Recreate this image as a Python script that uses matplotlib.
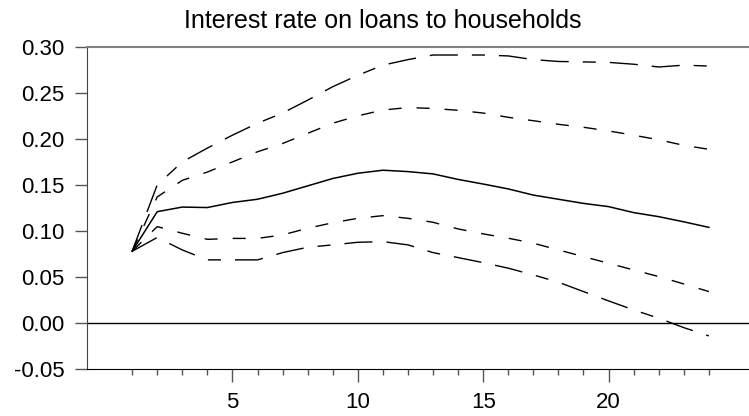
import matplotlib
matplotlib.use("Agg")
import matplotlib.pyplot as plt

plt.rcParams['font.family'] = ['Liberation Sans', 'DejaVu Sans']
plt.rcParams['lines.scale_dashes'] = False

# impulse response horizon
steps = list(range(1, 25))

median = [0.078, 0.121, 0.126, 0.1255, 0.131, 0.1345, 0.141, 0.149, 0.157, 0.1627,
          0.166, 0.1645, 0.162, 0.156, 0.151, 0.1457, 0.139, 0.1345, 0.130, 0.1265,
          0.120, 0.1156, 0.110, 0.104]
upper_inner = [0.078, 0.137, 0.155, 0.164, 0.175, 0.186, 0.195, 0.206, 0.217, 0.225,
               0.2313, 0.234, 0.233, 0.231, 0.228, 0.2234, 0.2197, 0.2158, 0.2126, 0.2086,
               0.204, 0.199, 0.193, 0.1887]
lower_inner = [0.078, 0.1048, 0.0976, 0.091, 0.092, 0.092, 0.0958, 0.103, 0.109, 0.1138,
               0.1167, 0.1138, 0.1095, 0.1023, 0.0969, 0.0922, 0.0868, 0.0795, 0.0723, 0.065,
               0.0578, 0.0506, 0.0426, 0.0343]
upper_outer = [0.078, 0.150, 0.175, 0.190, 0.204, 0.217, 0.228, 0.242, 0.2566, 0.269,
               0.280, 0.286, 0.291, 0.291, 0.291, 0.290, 0.286, 0.284, 0.2835, 0.283,
               0.281, 0.278, 0.280, 0.279]
lower_outer = [0.078, 0.093, 0.0795, 0.0687, 0.0687, 0.0687, 0.0766, 0.0824, 0.085, 0.0878,
               0.0885, 0.085, 0.0766, 0.0712, 0.0657, 0.0597, 0.0524, 0.0445, 0.0343, 0.0242,
               0.0144, 0.0054, -0.0048, -0.0138]

title = "Interest rate on loans to households"

fig = plt.figure(figsize=(7.49, 4.16), dpi=100)
ax = fig.add_axes([0.1158, 0.1123, 0.8842, 0.7754])

long_dash = (0, (20.2, 10.1, 20.2, 10.1, 9.4, 10.1))
short_dash = (0, (9.4, 10.8))

ax.axhline(0, color='black', lw=1.0)
ax.plot(steps, upper_outer, color='black', lw=1.0, linestyle=long_dash)
ax.plot(steps, lower_outer, color='black', lw=1.0, linestyle=long_dash)
ax.plot(steps, upper_inner, color='black', lw=1.0, linestyle=short_dash)
ax.plot(steps, lower_inner, color='black', lw=1.0, linestyle=short_dash)
ax.plot(steps, median, color='black', lw=1.1)

ax.set_xlim(-0.81, 25.6)
ax.set_ylim(-0.05, 0.30)
ax.set_xticks([5, 10, 15, 20])
ax.set_xticks(steps, minor=True)
ax.set_yticks([-0.05, 0.0, 0.05, 0.10, 0.15, 0.20, 0.25, 0.30])
ax.set_yticklabels(['-0.05', '0.00', '0.05', '0.10', '0.15', '0.20', '0.25', '0.30'])

ax.tick_params(axis='both', which='major', direction='out', length=9, width=1.0,
               color='#555555', labelsize=16, pad=7)
ax.tick_params(axis='x', which='minor', direction='out', length=4, width=1.0,
               color='#555555')
ax.tick_params(axis='y', which='minor', left=False)

ax.spines['right'].set_visible(False)
ax.spines['top'].set_color('#808080')
ax.spines['top'].set_linewidth(1.5)
ax.spines['left'].set_color('#444444')
ax.spines['bottom'].set_color('black')

fig.text(383 / 749, 1 - 28.3 / 416, title, ha='center', va='baseline', fontsize=18)

fig.savefig('out.png', dpi=100)
